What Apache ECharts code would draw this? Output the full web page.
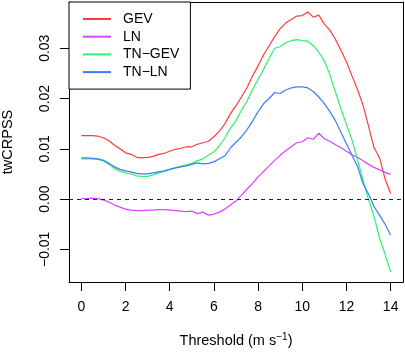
<!DOCTYPE html>
<html>
<head>
<meta charset="utf-8">
<script src="https://cdn.jsdelivr.net/npm/echarts@6/dist/echarts.min.js"></script>
<style>html,body{margin:0;padding:0;background:#fff}#c{width:405px;height:352px}</style>
</head>
<body>
<div id="c"></div>
<script>
var thresholds = [0,0.25,0.5,0.75,1,1.25,1.5,1.75,2,2.25,2.5,2.75,3,3.25,3.5,3.75,4,4.25,4.5,4.75,5,5.25,5.5,5.75,6,6.25,6.5,6.75,7,7.25,7.5,7.75,8,8.25,8.5,8.75,9,9.25,9.5,9.75,10,10.25,10.5,10.75,11,11.25,11.5,11.75,12,12.25,12.5,12.75,13,13.25,13.5,13.75,14];
var gev = [0.0126,0.0126,0.0126,0.0125,0.0122,0.0116,0.0107,0.0100,0.0092,0.0089,0.0083,0.0082,0.0083,0.0085,0.0089,0.0091,0.0095,0.0099,0.0101,0.0104,0.0104,0.0109,0.0112,0.0115,0.0124,0.0135,0.0150,0.0170,0.0186,0.0203,0.0222,0.0245,0.0265,0.0287,0.0305,0.0323,0.0339,0.0350,0.0357,0.0364,0.0365,0.0372,0.0362,0.0366,0.0348,0.0336,0.0318,0.0296,0.0273,0.0245,0.0218,0.0187,0.0145,0.0102,0.0082,0.0040,0.0011];
var ln = [0.0001,0.0001,0.0002,0.0001,-0.0002,-0.0006,-0.0012,-0.0016,-0.0020,-0.0022,-0.0023,-0.0023,-0.0022,-0.0022,-0.0021,-0.0021,-0.0022,-0.0023,-0.0024,-0.0025,-0.0024,-0.0029,-0.0026,-0.0032,-0.0030,-0.0026,-0.0020,-0.0012,-0.0004,0.0008,0.0020,0.0031,0.0044,0.0055,0.0066,0.0077,0.0087,0.0096,0.0104,0.0112,0.0114,0.0122,0.0119,0.0131,0.0120,0.0115,0.0108,0.0102,0.0095,0.0088,0.0083,0.0076,0.0069,0.0063,0.0058,0.0053,0.0049];
var tnGev = [0.0080,0.0080,0.0080,0.0079,0.0076,0.0069,0.0061,0.0055,0.0052,0.0050,0.0046,0.0045,0.0045,0.0048,0.0052,0.0055,0.0059,0.0062,0.0065,0.0068,0.0071,0.0076,0.0080,0.0087,0.0094,0.0106,0.0122,0.0141,0.0156,0.0177,0.0195,0.0218,0.0238,0.0258,0.0280,0.0300,0.0303,0.0311,0.0315,0.0317,0.0315,0.0314,0.0305,0.0292,0.0275,0.0247,0.0213,0.0180,0.0148,0.0118,0.0078,0.0038,-0.0001,-0.0035,-0.0078,-0.0110,-0.0145];
var tnLn = [0.0082,0.0082,0.0081,0.0080,0.0077,0.0071,0.0064,0.0059,0.0056,0.0054,0.0051,0.0050,0.0050,0.0052,0.0054,0.0056,0.0059,0.0062,0.0064,0.0066,0.0069,0.0072,0.0070,0.0071,0.0074,0.0080,0.0086,0.0102,0.0113,0.0124,0.0138,0.0155,0.0174,0.0190,0.0200,0.0212,0.0210,0.0217,0.0221,0.0223,0.0223,0.0221,0.0214,0.0203,0.0190,0.0174,0.0156,0.0133,0.0110,0.0087,0.0065,0.0031,0.0010,-0.0015,-0.0032,-0.0050,-0.0072];
var seriesNames = ['GEV','LN','TN\u2212GEV','TN\u2212LN'];
var seriesColors = ['#FF3B3B','#D845FF','#2EF26B','#3C7CFF'];
var xTicks = [0,2,4,6,8,10,12,14];
var yTicks = [-0.01,0,0.01,0.02,0.03];

var values = [gev, ln, tnGev, tnLn];
function pairs(v){ return thresholds.map(function(t,i){ return [t, v[i]]; }); }
var series = values.map(function(v, k){
  var s = {
    name: seriesNames[k], type: 'line', data: pairs(v), symbol: 'none',
    lineStyle: {color: seriesColors[k], width: 1.2}, itemStyle: {color: seriesColors[k]},
    z: 3, animation: false
  };
  if (k === 0) {
    s.markLine = {silent: true, symbol: 'none', label: {show: false},
      lineStyle: {color: '#222', type: [4,4], width: 1},
      data: [{yAxis: 0}], animation: false};
  }
  return s;
});

var chart = echarts.init(document.getElementById('c'), null, {renderer: 'canvas'});
var font = 'Liberation Sans, Arial, sans-serif';
var XMIN = -0.56, XMAX = 14.56, YMIN = -0.0165, YMAX = 0.0392;
var boxLine = {show: true, onZero: false, lineStyle: {color: '#000', width: 1}};
chart.setOption({
  animation: false,
  backgroundColor: '#fff',
  grid: {left: 69, right: 2, top: 2, bottom: 70, containLabel: false, outerBoundsMode: 'none'},
  legend: {
    left: 69, top: 2, orient: 'vertical',
    padding: [10, 11, 10, 13], itemGap: 3.7, itemWidth: 28, itemHeight: 14,
    borderColor: '#000', borderWidth: 1, backgroundColor: '#fff', borderRadius: 0,
    itemStyle: {opacity: 0},
    textStyle: {fontFamily: font, fontSize: 14, color: '#000', padding: [0,0,0,7]},
    data: seriesNames
  },
  xAxis: [{
    type: 'value', min: XMIN, max: XMAX, position: 'bottom',
    name: 'Threshold (m s{sup|\u22121})', nameLocation: 'middle', nameGap: 50,
    nameTextStyle: {fontFamily: font, fontSize: 14.5, color: '#000',
      rich: {sup: {fontFamily: font, fontSize: 10, color: '#000', verticalAlign: 'top', padding: [0,0,8,0]}}},
    axisLine: boxLine,
    axisTick: {show: true, length: 9, customValues: xTicks, lineStyle: {color: '#000'}},
    axisLabel: {customValues: xTicks, margin: 18, fontFamily: font, fontSize: 14, color: '#000'},
    splitLine: {show: false}
  }, {
    type: 'value', min: XMIN, max: XMAX, position: 'top',
    axisLine: boxLine, axisTick: {show: false}, axisLabel: {show: false}, splitLine: {show: false}
  }],
  yAxis: [{
    type: 'value', min: YMIN, max: YMAX, position: 'left',
    name: 'twCRPSS', nameLocation: 'middle', nameGap: 54, nameRotate: 90,
    nameTextStyle: {fontFamily: font, fontSize: 14.5, color: '#000'},
    axisLine: boxLine,
    axisTick: {show: true, length: 9, customValues: yTicks, lineStyle: {color: '#000'}},
    axisLabel: {customValues: yTicks, rotate: 90, margin: 17, fontFamily: font, fontSize: 14, color: '#000',
      formatter: function(v){ return v.toFixed(2).replace('-', '\u2212'); }},
    splitLine: {show: false}
  }, {
    type: 'value', min: YMIN, max: YMAX, position: 'right',
    axisLine: boxLine, axisTick: {show: false}, axisLabel: {show: false}, splitLine: {show: false}
  }],
  series: series
});
</script>
</body>
</html>
